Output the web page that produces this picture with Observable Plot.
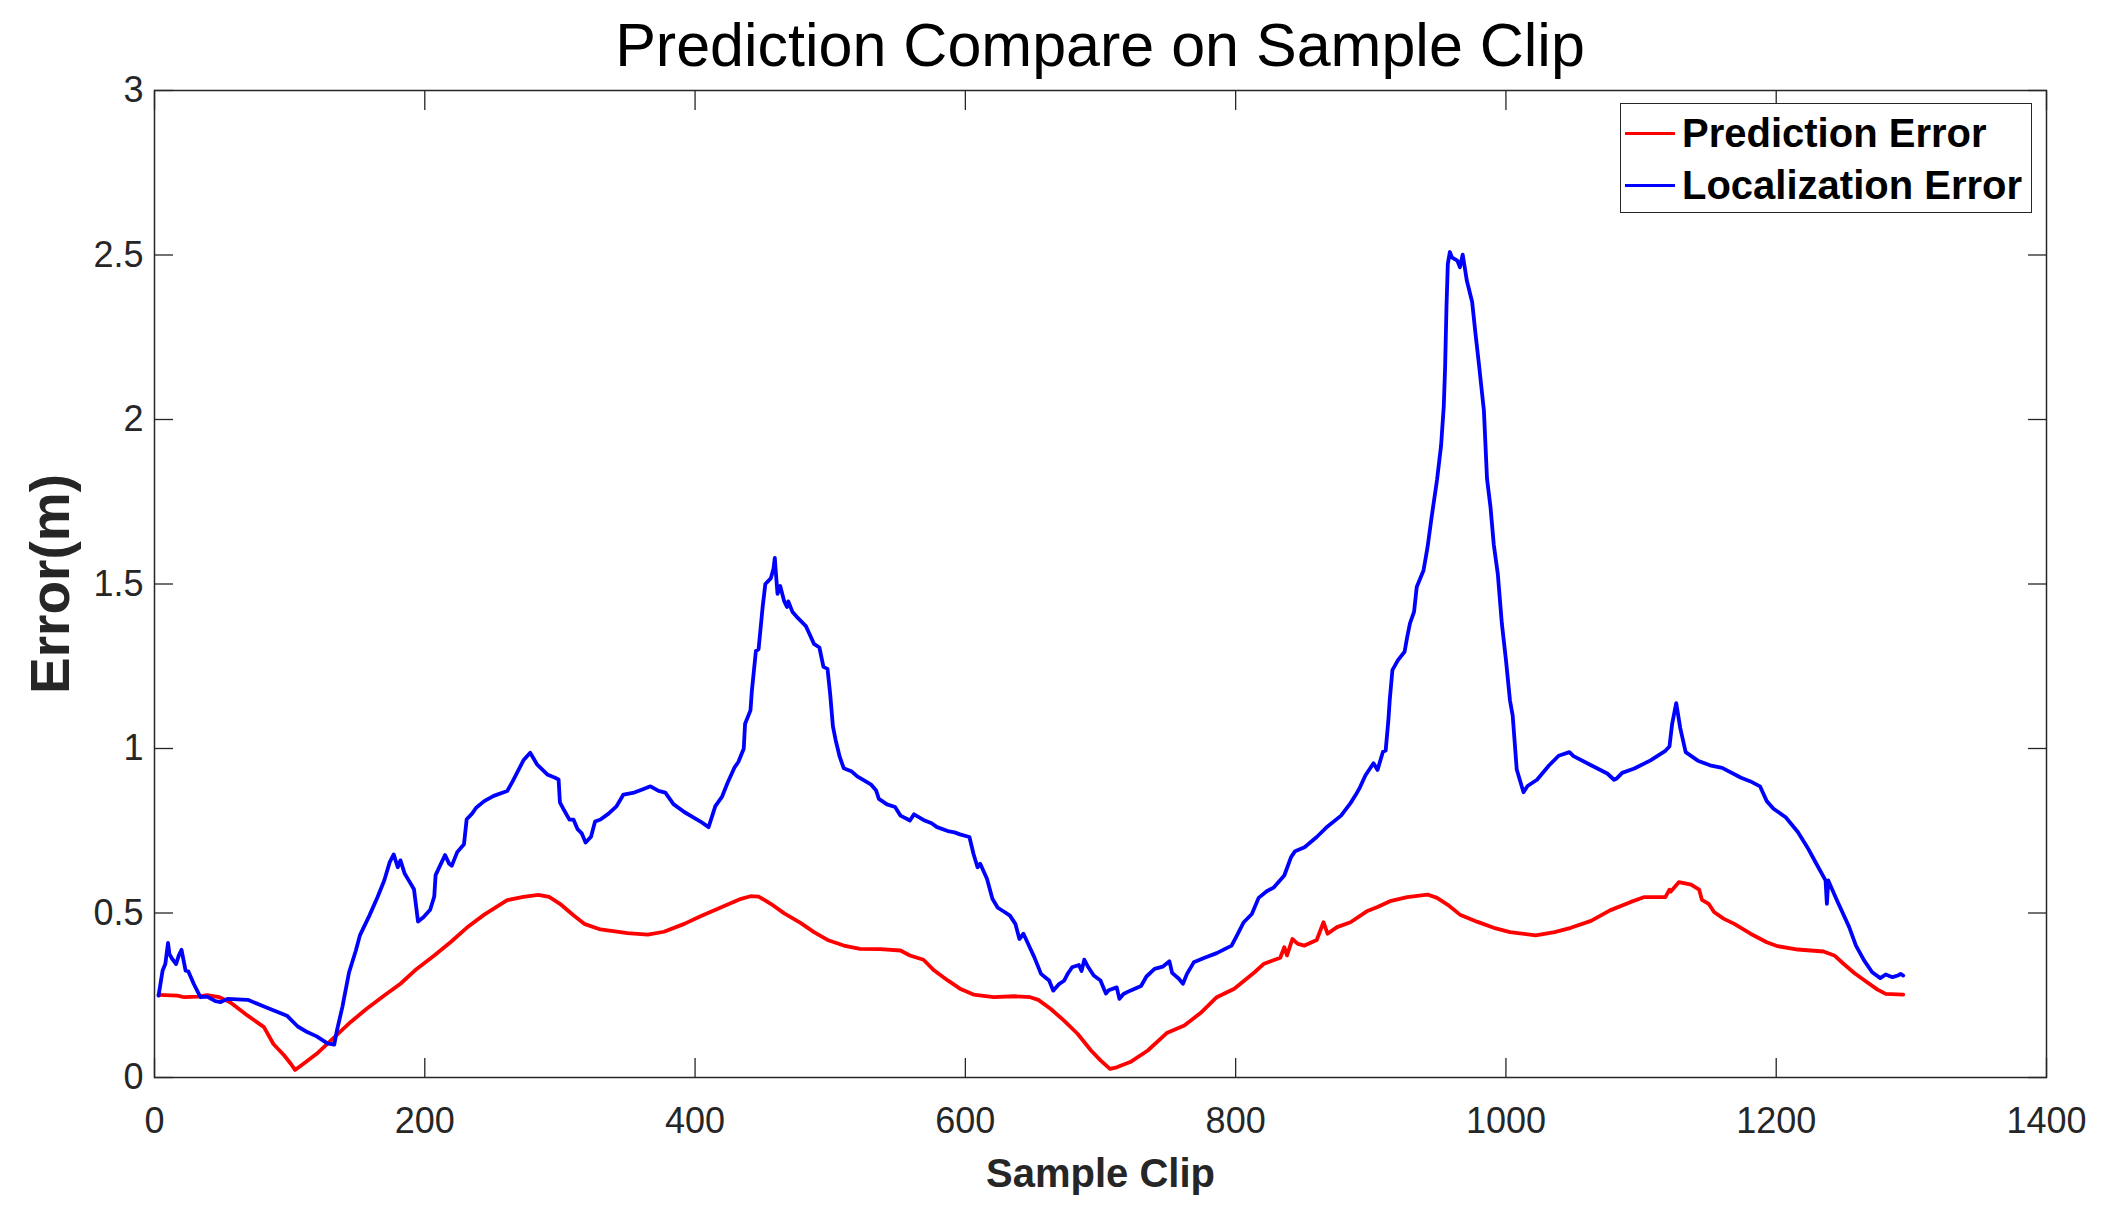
<!DOCTYPE html>
<html><head><meta charset="utf-8">
<script src="https://cdn.jsdelivr.net/npm/d3@7"></script>
<script src="https://cdn.jsdelivr.net/npm/@observablehq/plot@0.6"></script>
<style>
body{margin:0;background:#fff;}
#wrap{position:relative;width:2109px;height:1218px;font-family:"Liberation Sans",Arial,sans-serif;}
#title{height:80px;line-height:90px;margin-left:154px;width:1892px;text-align:center;font-size:61px;color:#000;white-space:nowrap;overflow:visible;}
#legend{position:absolute;left:1620px;top:103px;width:412px;height:110px;box-sizing:border-box;border:1.5px solid #262626;background:#fff;padding:3px 0 0 4px;}
.row{display:flex;align-items:center;height:52px;font-weight:bold;font-size:40px;color:#000;white-space:nowrap;}
.sw{width:50px;height:0;border-top:3.6px solid;margin-right:7px;}
</style></head><body>
<div id="wrap"><div id="title">Prediction Compare on Sample Clip</div><div id="chart"></div><div id="legend"></div></div>
<script>
const seriesNames = ["Prediction Error", "Localization Error"];
const seriesColors = ["#ff0000", "#0000ff"];
const xTicks = [0, 200, 400, 600, 800, 1000, 1200, 1400];
const yTicks = [0, 0.5, 1, 1.5, 2, 2.5, 3];

const predictionX = [3,17,22,32,39,48,56,69,81,88,96,101,104,110,120,133,145,157,170,182,194,207,219,231,244,261,273,284,292,300,310,318,330,350,365,377,392,404,419,434,441,447,456,466,478,488,498,510,522,537,552,559,569,577,587,596,606,621,636,648,654,663,673,683,693,700,707,712,722,735,749,762,774,786,799,814,821,833,836,838,842,846,851,860,865,868,875,885,897,905,915,927,942,949,957,966,979,991,1003,1022,1036,1048,1063,1077,1092,1102,1118,1121,1122,1126,1128,1137,1143,1145,1150,1154,1161,1169,1181,1193,1201,1216,1235,1243,1250,1258,1267,1275,1281,1294];
const predictionY = [0.251,0.249,0.244,0.246,0.25,0.244,0.229,0.188,0.153,0.102,0.067,0.041,0.023,0.041,0.072,0.122,0.168,0.209,0.249,0.285,0.33,0.371,0.411,0.455,0.495,0.539,0.549,0.555,0.549,0.528,0.493,0.467,0.45,0.439,0.434,0.443,0.467,0.49,0.517,0.543,0.551,0.55,0.528,0.499,0.47,0.442,0.418,0.401,0.391,0.39,0.386,0.371,0.358,0.325,0.295,0.27,0.252,0.244,0.247,0.244,0.236,0.209,0.173,0.133,0.082,0.052,0.026,0.031,0.047,0.082,0.135,0.158,0.196,0.244,0.27,0.32,0.346,0.364,0.396,0.371,0.421,0.406,0.401,0.418,0.472,0.437,0.457,0.472,0.505,0.518,0.537,0.548,0.556,0.546,0.525,0.495,0.473,0.455,0.442,0.432,0.442,0.455,0.476,0.508,0.533,0.548,0.548,0.571,0.565,0.584,0.594,0.586,0.571,0.54,0.528,0.503,0.483,0.467,0.437,0.411,0.399,0.389,0.383,0.371,0.345,0.317,0.29,0.267,0.254,0.252];

const localizationX = [3,6,8,10,11,13,16,18,20,23,25,29,34,39,45,49,54,69,81,98,106,113,120,128,133,135,139,144,149,152,159,165,170,174,177,180,182,185,188,192,195,199,204,207,208,212,215,218,220,224,229,231,235,238,244,251,261,265,269,273,278,283,291,296,299,300,303,307,310,313,316,319,323,326,330,336,342,347,355,360,367,373,378,384,392,399,404,410,415,420,424,429,432,436,437,441,442,445,447,450,452,456,458,459,460,461,463,466,468,469,472,476,482,484,488,492,495,498,500,502,504,507,510,516,520,525,530,534,536,542,548,552,559,562,569,575,579,587,592,596,603,606,609,611,616,620,624,629,633,637,640,643,647,651,656,659,662,665,669,673,676,679,684,686,688,691,695,700,704,706,712,714,717,722,730,734,740,746,751,753,758,761,764,769,777,786,797,801,806,812,817,823,828,836,841,844,851,860,868,878,885,889,892,896,901,902,905,909,911,913,914,916,920,925,927,929,932,934,939,942,945,949,952,954,955,956,957,958.5,960,964,966,968,969.5,971,975,977.5,980,983.7,986,988.6,991,994,997,1000,1003,1005,1008,1013,1016,1023,1032,1039,1047,1050,1063,1075,1080,1082,1086,1095,1107,1118,1121,1123,1126,1129,1133,1142,1151,1160,1174,1181,1188,1193,1198,1207,1216,1223,1229,1236.5,1237.5,1238.5,1245,1254,1259,1265,1271,1277,1281,1286,1290,1292,1294];
const localizationY = [0.249,0.325,0.345,0.409,0.376,0.361,0.345,0.371,0.388,0.325,0.323,0.285,0.244,0.246,0.232,0.229,0.239,0.236,0.216,0.188,0.155,0.138,0.125,0.104,0.1,0.143,0.214,0.32,0.386,0.432,0.492,0.548,0.599,0.654,0.678,0.639,0.66,0.621,0.6,0.572,0.474,0.487,0.51,0.55,0.615,0.65,0.676,0.65,0.644,0.685,0.709,0.785,0.802,0.82,0.84,0.856,0.871,0.9,0.932,0.964,0.987,0.952,0.92,0.912,0.906,0.836,0.813,0.784,0.784,0.755,0.743,0.714,0.732,0.778,0.784,0.802,0.825,0.86,0.866,0.874,0.885,0.871,0.866,0.831,0.807,0.79,0.778,0.761,0.825,0.854,0.895,0.941,0.959,0.999,1.075,1.116,1.174,1.296,1.302,1.43,1.5,1.517,1.546,1.579,1.523,1.47,1.494,1.447,1.43,1.447,1.416,1.397,1.372,1.354,1.318,1.307,1.248,1.242,1.164,1.067,1.026,0.975,0.94,0.93,0.915,0.903,0.891,0.872,0.847,0.83,0.822,0.796,0.781,0.8,0.783,0.773,0.761,0.749,0.745,0.739,0.731,0.68,0.639,0.65,0.604,0.543,0.516,0.503,0.492,0.467,0.421,0.437,0.401,0.366,0.315,0.305,0.295,0.264,0.283,0.294,0.317,0.335,0.342,0.324,0.358,0.335,0.31,0.295,0.255,0.265,0.274,0.239,0.254,0.264,0.278,0.307,0.33,0.337,0.353,0.318,0.3,0.285,0.315,0.35,0.364,0.378,0.401,0.432,0.472,0.497,0.546,0.566,0.577,0.614,0.67,0.688,0.7,0.731,0.763,0.796,0.834,0.86,0.882,0.918,0.949,0.955,0.935,0.99,0.994,1.085,1.146,1.238,1.268,1.294,1.34,1.38,1.415,1.491,1.541,1.612,1.703,1.816,1.92,2.04,2.159,2.341,2.473,2.509,2.493,2.483,2.463,2.501,2.463,2.423,2.357,2.26,2.169,2.027,1.82,1.733,1.62,1.53,1.379,1.27,1.146,1.1,0.936,0.867,0.886,0.905,0.949,0.978,0.989,0.977,0.949,0.924,0.905,0.909,0.926,0.939,0.964,0.993,1.006,1.075,1.138,1.062,0.989,0.963,0.949,0.941,0.911,0.9,0.885,0.84,0.817,0.791,0.746,0.7,0.655,0.599,0.528,0.599,0.538,0.457,0.401,0.356,0.32,0.302,0.313,0.305,0.31,0.315,0.31];

const predData = predictionX.map((x, i) => ({x, y: predictionY[i]}));
const locData = localizationX.map((x, i) => ({x, y: localizationY[i]}));

const axisColor = "#262626";
const fmt = d => String(d);
const chart = Plot.plot({
  width: 2109, height: 1138,
  marginTop: 10, marginBottom: 141, marginLeft: 154, marginRight: 63,
  style: {fontFamily: "'Liberation Sans', Arial, sans-serif", color: axisColor, overflow: "visible", background: "transparent"},
  x: {domain: [0, 1400]},
  y: {domain: [0, 3]},
  marks: [
    Plot.line(predData, {x: "x", y: "y", stroke: seriesColors[0], strokeWidth: 3.8}),
    Plot.line(locData, {x: "x", y: "y", stroke: seriesColors[1], strokeWidth: 3.8}),
    Plot.frame({stroke: axisColor, strokeWidth: 1.5}),
    Plot.axisX(xTicks, {anchor: "bottom", tickSize: -19, tickPadding: 49, fontSize: 36, tickFormat: fmt, label: null, stroke: axisColor, strokeWidth: 1.3}),
    Plot.axisX(xTicks, {anchor: "top", tickSize: -19, tickFormat: () => "", label: null, stroke: axisColor, strokeWidth: 1.3}),
    Plot.axisY(yTicks, {anchor: "left", tickSize: -19, tickPadding: 30, fontSize: 36, tickFormat: fmt, label: null, stroke: axisColor, strokeWidth: 1.3}),
    Plot.axisY(yTicks, {anchor: "right", tickSize: -19, tickFormat: () => "", label: null, stroke: axisColor, strokeWidth: 1.3}),
    Plot.text(["Sample Clip"], {text: d => d, frameAnchor: "bottom", dy: 109, fontSize: 40, fontWeight: "bold", fill: axisColor}),
    Plot.text(["Error(m)"], {text: d => d, frameAnchor: "left", textAnchor: "middle", rotate: -90, dx: -103, fontSize: 55, fontWeight: "bold", fill: axisColor})
  ]
});
document.getElementById("chart").appendChild(chart);

const legend = document.getElementById("legend");
seriesNames.forEach((name, i) => {
  const row = document.createElement("div");
  row.className = "row";
  const sw = document.createElement("span");
  sw.className = "sw";
  sw.style.borderTopColor = seriesColors[i];
  const label = document.createElement("span");
  label.textContent = name;
  row.appendChild(sw);
  row.appendChild(label);
  legend.appendChild(row);
});
</script>
</body></html>
